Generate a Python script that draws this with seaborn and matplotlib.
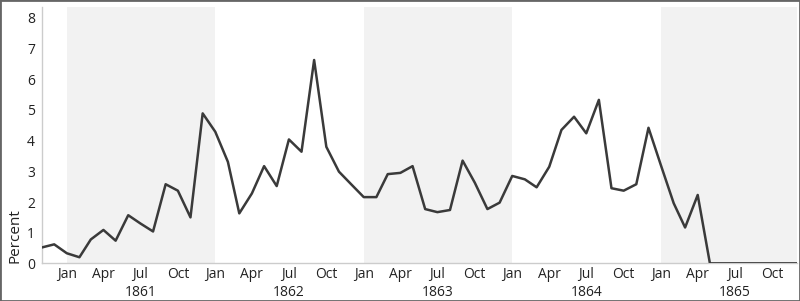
import matplotlib
matplotlib.use("Agg")
import matplotlib.pyplot as plt
import seaborn as sns
import pandas as pd
import numpy as np
from matplotlib.patches import Rectangle
import matplotlib.transforms as mtransforms

# ---- data ----
start_month = "1860-11-01"
percent = [
    0.52, 0.62,
    0.33, 0.20, 0.78, 1.09, 0.74, 1.57, 1.30, 1.04, 2.58, 2.37, 1.50, 4.89,
    4.29, 3.31, 1.63, 2.28, 3.17, 2.52, 4.04, 3.64, 6.63, 3.80, 2.99, 2.58,
    2.16, 2.16, 2.91, 2.95, 3.17, 1.77, 1.67, 1.74, 3.35, 2.63, 1.77, 1.98,
    2.85, 2.74, 2.48, 3.15, 4.35, 4.78, 4.24, 5.33, 2.45, 2.37, 2.58, 4.42,
    3.18, 1.96, 1.17, 2.23, 0.0, 0.0, 0.0, 0.0, 0.0, 0.0, 0.0, 0.0,
]
years = [1861, 1862, 1863, 1864, 1865]
shaded_years = [1861, 1863, 1865]
month_ticks = [1, 4, 7, 10]
month_labels = ["Jan", "Apr", "Jul", "Oct"]
y_ticks = [0, 1, 2, 3, 4, 5, 6, 7, 8]

dates = pd.date_range(start_month, periods=len(percent), freq="MS")
df = pd.DataFrame({"date": dates, "Percent": percent})

sns.set_style("white")
plt.rcParams["font.family"] = ["Open Sans", "DejaVu Sans"]

fig = plt.figure(figsize=(8.0, 3.01), dpi=100)
ax = fig.add_axes([0.0525, 0.125, 0.9437, 0.853])

x_end = dates[-1]
for yr in shaded_years:
    x0 = pd.Timestamp(f"{yr}-01-01")
    x1 = min(pd.Timestamp(f"{yr + 1}-01-01"), x_end)
    ax.axvspan(x0, x1, color="#f2f2f2", lw=0, zorder=0)

sns.lineplot(data=df, x="date", y="Percent", ax=ax, color="#3a3a3a",
             lw=1.8, zorder=3)

ax.set_xlim(dates[0], x_end)
ax.set_ylim(0, 8.37)

ticks = [pd.Timestamp(f"{yr}-{m:02d}-01") for yr in years for m in month_ticks]
labels = [month_labels[i] for yr in years for i in range(len(month_ticks))]
ax.set_xticks(ticks)
ax.set_xticklabels(labels)
ax.set_yticks(y_ticks)
ax.set_yticklabels([str(v) for v in y_ticks])

ax.tick_params(axis="x", length=0, pad=2.5, labelsize=10, labelcolor="#222222")
ax.tick_params(axis="y", length=3, width=0.8, color="#cccccc", pad=2,
               labelsize=10, labelcolor="#222222")
ax.set_xlabel("")
ax.set_ylabel("Percent", fontsize=11, color="#222222", labelpad=3, loc="bottom")

for side in ["top", "right"]:
    ax.spines[side].set_visible(False)
for side in ["left", "bottom"]:
    ax.spines[side].set_color("#cccccc")
    ax.spines[side].set_linewidth(1.0)

trans = mtransforms.blended_transform_factory(ax.transData, ax.transAxes)
for yr in years:
    ax.text(pd.Timestamp(f"{yr}-07-01"), -0.085, str(yr), transform=trans,
            ha="center", va="top", fontsize=10, color="#222222")

fig.patches.append(Rectangle((0, 0), 1, 1, transform=fig.transFigure,
                             fill=False, edgecolor="#666666", lw=2.0))

fig.savefig("out.png", dpi=100)
